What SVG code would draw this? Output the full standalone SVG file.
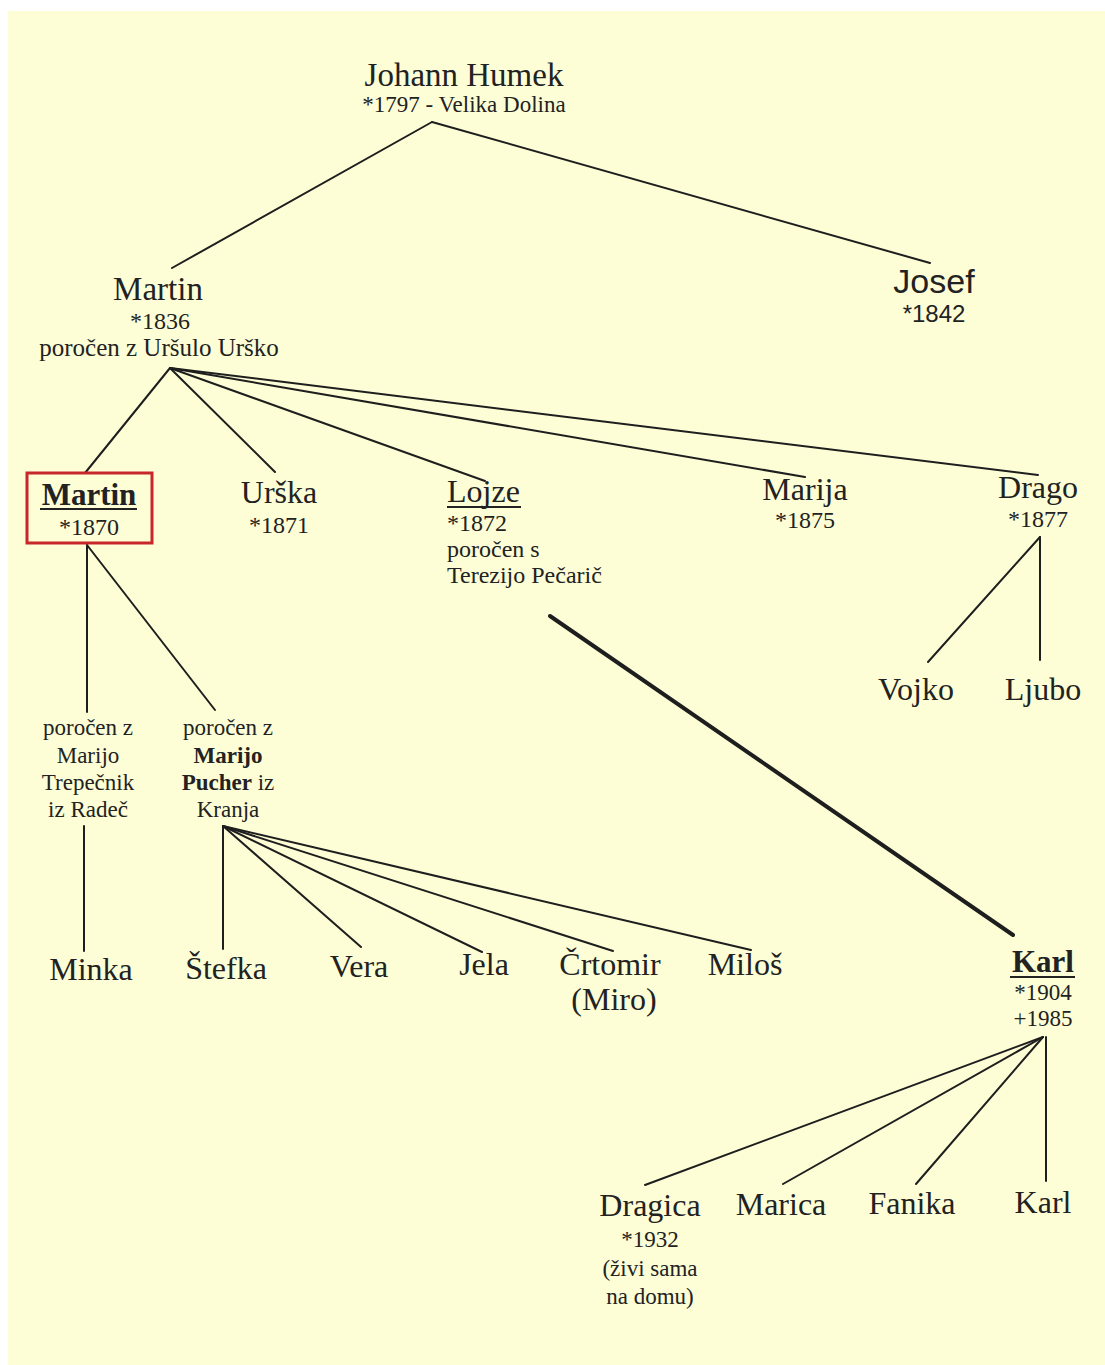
<svg xmlns="http://www.w3.org/2000/svg" width="1105" height="1365" viewBox="0 0 1105 1365">
<style>
.t{font-family:"Liberation Serif","Times New Roman",serif;fill:#222;text-anchor:middle}
.n{font-size:32px}
.s{font-size:24px}
.x{font-size:23px}
.l{text-anchor:start}
.b{font-weight:bold}
.sans{font-family:"Liberation Sans",Arial,sans-serif;fill:#222;text-anchor:middle}
.c line,.c path{stroke:#1e1e1e;stroke-width:2;fill:none;stroke-linecap:round}
.u{stroke:#222;stroke-width:2}
</style>
<rect x="0" y="0" width="1105" height="1365" fill="#ffffff"/>
<rect x="8" y="11" width="1097" height="1354" fill="#fdfed6"/>
<g class="c" id="connectors">
<line x1="432" y1="122" x2="172" y2="268"/>
<line x1="432" y1="122" x2="930" y2="263"/>
<line x1="170" y1="368" x2="85" y2="473"/>
<line x1="170" y1="368" x2="275" y2="472"/>
<line x1="170" y1="368" x2="485" y2="481"/>
<line x1="170" y1="368" x2="805" y2="477"/>
<line x1="170" y1="368" x2="1038" y2="475"/>
<line x1="87" y1="545" x2="87" y2="712"/>
<line x1="87" y1="545" x2="215" y2="710"/>
<line x1="84" y1="826" x2="84" y2="951"/>
<line x1="223" y1="826" x2="223" y2="949"/>
<line x1="223" y1="826" x2="361" y2="947"/>
<line x1="223" y1="826" x2="482" y2="952"/>
<line x1="223" y1="826" x2="613" y2="951"/>
<line x1="223" y1="826" x2="751" y2="950"/>
<line x1="1040" y1="537" x2="928" y2="662"/>
<line x1="1040" y1="537" x2="1040" y2="660"/>
<line x1="550" y1="616" x2="1013" y2="935" style="stroke-width:4"/>
<line x1="1043" y1="1037" x2="645" y2="1185"/>
<line x1="1043" y1="1037" x2="783" y2="1184"/>
<line x1="1043" y1="1037" x2="916" y2="1184"/>
<line x1="1046" y1="1037" x2="1046" y2="1181"/>
</g>
<g id="johann"><text class="t" x="464" y="86" style="font-size:33px">Johann Humek</text><text class="t x" x="464" y="112">*1797 - Velika Dolina</text></g>
<g id="martin1836"><text class="t" x="158" y="300" style="font-size:33px">Martin</text><text class="t s" x="160" y="329">*1836</text><text class="t" x="159" y="356" style="font-size:25px">poročen z Uršulo Urško</text></g>
<g id="josef"><text class="sans" x="934" y="293" style="font-size:34px">Josef</text><text class="sans" x="934" y="322" style="font-size:24px">*1842</text></g>
<g id="martin1870"><rect x="27" y="473" width="125" height="70" fill="none" stroke="#c8262a" stroke-width="3"/><text class="t b" x="89" y="505" style="font-size:31px">Martin</text><line class="u" x1="40" y1="509" x2="137" y2="509"/><text class="t s" x="89" y="535">*1870</text></g>
<g id="urska"><text class="t n" x="279" y="503">Urška</text><text class="t s" x="279" y="533">*1871</text></g>
<g id="lojze"><text class="t n l" x="447" y="502">Lojze</text><line class="u" x1="447" y1="507" x2="521" y2="507"/><text class="t s l" x="447" y="531">*1872</text><text class="t s l" x="447" y="557">poročen s</text><text class="t s l" x="447" y="583">Terezijo Pečarič</text></g>
<g id="marija"><text class="t n" x="805" y="500">Marija</text><text class="t s" x="805" y="528">*1875</text></g>
<g id="drago"><text class="t n" x="1038" y="498">Drago</text><text class="t s" x="1038" y="527">*1877</text></g>
<g id="vojko"><text class="t n" x="916" y="700">Vojko</text></g>
<g id="ljubo"><text class="t n" x="1043" y="700">Ljubo</text></g>
<g id="wife1"><text class="t x" x="88" y="735">poročen z</text><text class="t x" x="88" y="763">Marijo</text><text class="t x" x="88" y="790">Trepečnik</text><text class="t x" x="88" y="817">iz Radeč</text></g>
<g id="wife2"><text class="t x" x="228" y="735">poročen z</text><text class="t x b" x="228" y="763">Marijo</text><text class="t x" x="228" y="790"><tspan font-weight="bold">Pucher</tspan> iz</text><text class="t x" x="228" y="817">Kranja</text></g>
<g id="minka"><text class="t n" x="91" y="980">Minka</text></g>
<g id="stefka"><text class="t n" x="226" y="979">Štefka</text></g>
<g id="vera"><text class="t n" x="359" y="977">Vera</text></g>
<g id="jela"><text class="t n" x="484" y="975">Jela</text></g>
<g id="crtomir"><text class="t n" x="610" y="975">Črtomir</text><text class="t n" x="614" y="1010">(Miro)</text></g>
<g id="milos"><text class="t n" x="745" y="975">Miloš</text></g>
<g id="karl1904"><text class="t b" x="1043" y="972" style="font-size:31px">Karl</text><line class="u" x1="1010" y1="977" x2="1075" y2="977"/><text class="t x" x="1043" y="1000">*1904</text><text class="t x" x="1043" y="1026">+1985</text></g>
<g id="dragica"><text class="t n" x="650" y="1216">Dragica</text><text class="t x" x="650" y="1247">*1932</text><text class="t x" x="650" y="1276">(živi sama</text><text class="t x" x="650" y="1304">na domu)</text></g>
<g id="marica"><text class="t n" x="781" y="1215">Marica</text></g>
<g id="fanika"><text class="t n" x="912" y="1214">Fanika</text></g>
<g id="karl2"><text class="t n" x="1043" y="1213">Karl</text></g>
</svg>
